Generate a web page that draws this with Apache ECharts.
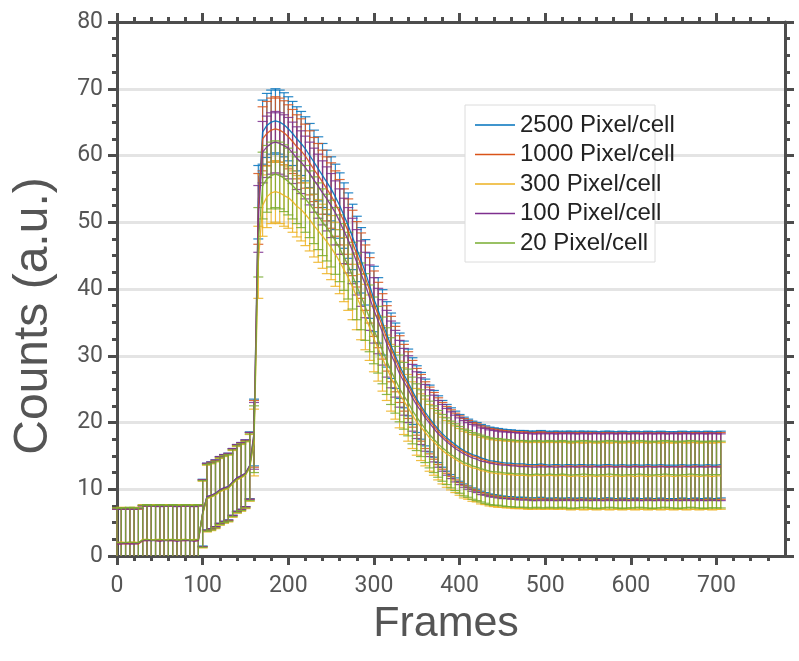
<!DOCTYPE html>
<html>
<head>
<meta charset="utf-8">
<script src="https://cdn.jsdelivr.net/npm/echarts@6/dist/echarts.min.js"></script>
<style>
  html, body { margin: 0; padding: 0; background: #fff; }
  #chart { width: 799px; height: 661px; }
</style>
</head>
<body>
<div id="chart"></div>
<script>
// frame index of every error-bar point
const frames = [
  0, 5, 10, 15, 20, 25, 30, 35, 40, 45, 50, 55, 60, 65, 70, 75, 80, 85, 90, 95,
  100, 105, 110, 115, 120, 125, 130, 135, 140, 145, 150, 155, 160, 165, 170, 175, 180, 185, 190, 195,
  200, 205, 210, 215, 220, 225, 230, 235, 240, 245, 250, 255, 260, 265, 270, 275, 280, 285, 290, 295,
  300, 305, 310, 315, 320, 325, 330, 335, 340, 345, 350, 355, 360, 365, 370, 375, 380, 385, 390, 395,
  400, 405, 410, 415, 420, 425, 430, 435, 440, 445, 450, 455, 460, 465, 470, 475, 480, 485, 490, 495,
  500, 505, 510, 515, 520, 525, 530, 535, 540, 545, 550, 555, 560, 565, 570, 575, 580, 585, 590, 595,
  600, 605, 610, 615, 620, 625, 630, 635, 640, 645, 650, 655, 660, 665, 670, 675, 680, 685, 690, 695,
  700, 705
]

const mean2500 = [
  1.9, 2.0, 1.9, 2.0, 1.9, 2.0, 2.4, 2.4, 2.3, 2.4, 2.4, 2.3, 2.4, 2.4, 2.3, 2.4, 2.4, 2.3, 2.4, 2.4,
  6.5, 8.9, 9.1, 9.4, 9.9, 10.2, 10.4, 11.1, 11.7, 12.0, 12.4, 13.6, 18.5, 53.0, 63.5, 64.5, 65.0, 65.2, 65.0, 64.6,
  64.0, 63.3, 62.5, 61.8, 61.0, 60.0, 59.0, 58.0, 57.0, 56.0, 55.0, 53.8, 52.5, 51.0, 49.5, 47.8, 46.0, 44.3, 42.5, 40.5,
  38.5, 36.8, 35.0, 33.2, 31.5, 30.0, 28.5, 27.2, 26.0, 24.7, 23.5, 22.5, 21.5, 20.6, 19.8, 19.0, 18.3, 17.7, 17.2, 16.7,
  16.2, 15.8, 15.5, 15.2, 15.0, 14.7, 14.5, 14.3, 14.2, 14.1, 14.0, 13.9, 13.9, 13.8, 13.8, 13.8, 13.7, 13.7, 13.7, 13.8,
  13.7, 13.6, 13.7, 13.7, 13.6, 13.7, 13.7, 13.6, 13.7, 13.7, 13.6, 13.7, 13.6, 13.6, 13.7, 13.7, 13.6, 13.6, 13.7, 13.6,
  13.6, 13.7, 13.6, 13.6, 13.7, 13.6, 13.6, 13.7, 13.6, 13.6, 13.6, 13.6, 13.7, 13.6, 13.6, 13.7, 13.6, 13.6, 13.7, 13.6,
  13.6, 13.7
]
const err2500 = [
  5.2, 5.2, 5.2, 5.2, 5.2, 5.2, 5.2, 5.2, 5.2, 5.2, 5.2, 5.2, 5.2, 5.2, 5.2, 5.2, 5.2, 5.2, 5.2, 5.2,
  5.0, 5.0, 5.0, 5.0, 5.0, 5.0, 5.0, 5.0, 5.0, 5.0, 5.0, 5.0, 5.0, 5.5, 4.8, 4.8, 4.8, 4.8, 4.8, 4.8,
  4.8, 4.8, 4.8, 4.8, 4.8, 4.8, 4.8, 4.8, 4.8, 4.8, 4.8, 4.9, 4.9, 4.9, 4.9, 4.9, 4.9, 4.9, 4.9, 4.9,
  4.9, 4.9, 4.9, 4.9, 4.9, 4.9, 4.9, 5.0, 5.0, 5.0, 5.0, 5.0, 5.0, 5.0, 5.0, 5.0, 5.0, 5.0, 5.0, 5.0,
  5.0, 5.0, 5.0, 5.0, 5.0, 5.0, 5.0, 5.0, 5.0, 5.0, 5.0, 5.0, 5.0, 5.0, 5.0, 5.0, 5.0, 5.0, 5.0, 5.0,
  5.0, 5.0, 5.0, 5.0, 5.0, 5.0, 5.0, 5.0, 5.0, 5.0, 5.0, 5.0, 5.0, 5.0, 5.0, 5.0, 5.0, 5.0, 5.0, 5.0,
  5.0, 5.0, 5.0, 5.0, 5.0, 5.0, 5.0, 5.0, 5.0, 5.0, 5.0, 5.0, 5.0, 5.0, 5.0, 5.0, 5.0, 5.0, 5.0, 5.0,
  5.0, 5.0
]

const mean1000 = [
  1.8, 1.9, 1.8, 1.9, 1.9, 1.8, 2.3, 2.3, 2.4, 2.3, 2.3, 2.4, 2.3, 2.3, 2.4, 2.3, 2.3, 2.4, 2.3, 2.3,
  6.4, 8.8, 9.0, 9.3, 9.8, 10.1, 10.3, 11.0, 11.6, 11.9, 12.3, 13.5, 18.3, 52.0, 62.5, 63.3, 63.8, 64.0, 63.8, 63.4,
  62.8, 62.1, 61.3, 60.7, 59.9, 58.9, 57.9, 57.0, 56.0, 55.0, 54.0, 52.8, 51.5, 50.1, 48.6, 46.9, 45.2, 43.5, 41.7, 39.8,
  37.8, 36.1, 34.4, 32.6, 31.0, 29.5, 28.0, 26.7, 25.6, 24.3, 23.1, 22.2, 21.1, 20.3, 19.5, 18.7, 18.0, 17.4, 16.9, 16.4,
  16.0, 15.6, 15.3, 15.0, 14.8, 14.5, 14.3, 14.1, 14.0, 13.9, 13.8, 13.7, 13.7, 13.6, 13.6, 13.6, 13.5, 13.5, 13.5, 13.6,
  13.5, 13.4, 13.5, 13.5, 13.4, 13.5, 13.5, 13.4, 13.5, 13.5, 13.4, 13.5, 13.4, 13.4, 13.5, 13.5, 13.4, 13.4, 13.5, 13.4,
  13.4, 13.5, 13.4, 13.4, 13.5, 13.4, 13.4, 13.5, 13.4, 13.4, 13.4, 13.4, 13.5, 13.4, 13.4, 13.5, 13.4, 13.4, 13.5, 13.4,
  13.4, 13.5
]
const err1000 = [
  5.2, 5.2, 5.2, 5.2, 5.2, 5.2, 5.2, 5.2, 5.2, 5.2, 5.2, 5.2, 5.2, 5.2, 5.2, 5.2, 5.2, 5.2, 5.2, 5.2,
  5.0, 5.0, 5.0, 5.0, 5.0, 5.0, 5.0, 5.0, 5.0, 5.0, 5.0, 5.0, 5.0, 5.3, 4.8, 4.8, 4.8, 4.8, 4.8, 4.8,
  4.8, 4.8, 4.8, 4.8, 4.8, 4.8, 4.8, 4.8, 4.8, 4.8, 4.9, 4.9, 4.9, 4.9, 4.9, 4.9, 4.9, 4.9, 4.9, 4.9,
  4.9, 4.9, 4.9, 4.9, 4.9, 4.9, 5.0, 5.0, 5.0, 5.0, 5.0, 5.0, 5.0, 5.0, 5.0, 5.0, 5.0, 5.0, 5.0, 5.0,
  5.0, 5.0, 5.0, 5.0, 5.0, 5.0, 5.0, 5.0, 5.0, 5.0, 5.0, 5.0, 5.0, 5.0, 5.0, 5.0, 5.0, 5.0, 5.0, 5.0,
  5.0, 5.0, 5.0, 5.0, 5.0, 5.0, 5.0, 5.0, 5.0, 5.0, 5.0, 5.0, 5.0, 5.0, 5.0, 5.0, 5.0, 5.0, 5.0, 5.0,
  5.0, 5.0, 5.0, 5.0, 5.0, 5.0, 5.0, 5.0, 5.0, 5.0, 5.0, 5.0, 5.0, 5.0, 5.0, 5.0, 5.0, 5.0, 5.0, 5.0,
  5.0, 5.0
]

const mean300 = [
  2.0, 2.1, 2.0, 2.0, 2.1, 2.0, 2.5, 2.5, 2.4, 2.5, 2.5, 2.4, 2.5, 2.5, 2.4, 2.5, 2.5, 2.4, 2.5, 2.5,
  6.2, 8.6, 8.8, 9.1, 9.6, 9.9, 10.1, 10.8, 11.4, 11.7, 12.1, 13.2, 17.0, 44.0, 52.5, 53.8, 54.4, 54.6, 54.4, 54.0,
  53.7, 53.1, 52.4, 51.9, 51.2, 50.4, 49.5, 48.7, 47.9, 47.1, 46.2, 45.2, 44.1, 42.9, 41.7, 40.3, 38.8, 37.3, 35.8, 34.2,
  32.5, 31.1, 29.6, 28.2, 26.7, 25.5, 24.2, 23.2, 22.2, 21.1, 20.1, 19.3, 18.5, 17.7, 17.1, 16.4, 15.8, 15.3, 14.9, 14.5,
  14.1, 13.7, 13.5, 13.2, 13.1, 12.8, 12.7, 12.5, 12.4, 12.3, 12.3, 12.2, 12.2, 12.1, 12.1, 12.1, 12.0, 12.0, 12.1, 12.0,
  12.0, 12.1, 12.0, 12.0, 12.1, 12.0, 11.9, 12.0, 12.0, 11.9, 12.0, 12.0, 11.9, 12.0, 12.0, 11.9, 12.0, 12.0, 11.9, 12.0,
  12.0, 11.9, 12.0, 12.0, 11.9, 12.0, 12.0, 11.9, 12.0, 12.0, 11.9, 12.0, 12.0, 11.9, 12.0, 12.0, 11.9, 12.0, 12.0, 11.9,
  12.0, 12.0
]
const err300 = [
  5.2, 5.2, 5.2, 5.2, 5.2, 5.2, 5.2, 5.2, 5.2, 5.2, 5.2, 5.2, 5.2, 5.2, 5.2, 5.2, 5.2, 5.2, 5.2, 5.2,
  5.0, 5.0, 5.0, 5.0, 5.0, 5.0, 5.0, 5.0, 5.0, 5.0, 5.0, 5.0, 5.0, 5.4, 4.6, 4.6, 4.6, 4.6, 4.6, 4.6,
  4.6, 4.6, 4.6, 4.7, 4.7, 4.7, 4.7, 4.7, 4.8, 4.8, 4.8, 4.8, 4.8, 4.8, 4.9, 4.9, 4.9, 4.9, 4.9, 4.9,
  4.9, 4.9, 4.9, 4.9, 5.0, 5.0, 5.0, 5.0, 5.0, 5.0, 5.0, 5.0, 5.0, 5.0, 5.0, 5.0, 5.0, 5.0, 5.0, 5.0,
  5.0, 5.0, 5.0, 5.0, 5.0, 5.0, 5.0, 5.0, 5.0, 5.0, 5.0, 5.0, 5.0, 5.0, 5.0, 5.0, 5.0, 5.0, 5.0, 5.0,
  5.0, 5.0, 5.0, 5.0, 5.0, 5.0, 5.0, 5.0, 5.0, 5.0, 5.0, 5.0, 5.0, 5.0, 5.0, 5.0, 5.0, 5.0, 5.0, 5.0,
  5.0, 5.0, 5.0, 5.0, 5.0, 5.0, 5.0, 5.0, 5.0, 5.0, 5.0, 5.0, 5.0, 5.0, 5.0, 5.0, 5.0, 5.0, 5.0, 5.0,
  5.0, 5.0
]

const mean100 = [
  1.8, 1.8, 1.9, 1.8, 1.8, 1.9, 2.3, 2.3, 2.3, 2.3, 2.2, 2.3, 2.3, 2.3, 2.2, 2.3, 2.3, 2.3, 2.2, 2.3,
  6.4, 8.9, 9.1, 9.4, 9.9, 10.2, 10.4, 11.1, 11.7, 12.0, 12.4, 13.5, 18.0, 50.5, 60.5, 61.3, 61.8, 62.0, 61.8, 61.5,
  61.1, 60.4, 59.6, 59.0, 58.2, 57.3, 56.3, 55.4, 54.4, 53.5, 52.5, 51.4, 50.1, 48.7, 47.3, 45.7, 44.0, 42.3, 40.6, 38.7,
  36.8, 35.2, 33.5, 31.8, 30.2, 28.8, 27.3, 26.1, 25.0, 23.7, 22.6, 21.7, 20.7, 19.9, 19.1, 18.3, 17.7, 17.1, 16.6, 16.1,
  15.7, 15.3, 15.0, 14.7, 14.5, 14.2, 14.1, 13.9, 13.8, 13.7, 13.6, 13.6, 13.5, 13.5, 13.4, 13.4, 13.4, 13.3, 13.3, 13.4,
  13.3, 13.4, 13.3, 13.3, 13.4, 13.3, 13.4, 13.3, 13.3, 13.4, 13.3, 13.3, 13.4, 13.3, 13.3, 13.4, 13.3, 13.3, 13.4, 13.3,
  13.3, 13.4, 13.3, 13.3, 13.4, 13.3, 13.3, 13.4, 13.3, 13.3, 13.4, 13.3, 13.3, 13.4, 13.3, 13.3, 13.4, 13.3, 13.3, 13.4,
  13.3, 13.3
]
const err100 = [
  5.2, 5.2, 5.2, 5.2, 5.2, 5.2, 5.2, 5.2, 5.2, 5.2, 5.2, 5.2, 5.2, 5.2, 5.2, 5.2, 5.2, 5.2, 5.2, 5.2,
  5.0, 5.0, 5.0, 5.0, 5.0, 5.0, 5.0, 5.0, 5.0, 5.0, 5.0, 5.0, 5.0, 5.0, 4.6, 4.6, 4.6, 4.6, 4.6, 4.6,
  4.6, 4.6, 4.7, 4.7, 4.7, 4.7, 4.8, 4.8, 4.8, 4.8, 4.8, 4.8, 4.9, 4.9, 4.9, 4.9, 4.9, 4.9, 4.9, 4.9,
  4.9, 4.9, 4.9, 5.0, 5.0, 5.0, 5.0, 5.0, 5.0, 5.0, 5.0, 5.0, 5.0, 5.0, 5.0, 5.0, 5.0, 5.0, 5.0, 5.0,
  5.0, 5.0, 5.0, 5.0, 5.0, 5.0, 5.0, 5.0, 5.0, 5.0, 5.0, 5.0, 5.0, 5.0, 5.0, 5.0, 5.0, 5.0, 5.0, 5.0,
  5.0, 5.0, 5.0, 5.0, 5.0, 5.0, 5.0, 5.0, 5.0, 5.0, 5.0, 5.0, 5.0, 5.0, 5.0, 5.0, 5.0, 5.0, 5.0, 5.0,
  5.0, 5.0, 5.0, 5.0, 5.0, 5.0, 5.0, 5.0, 5.0, 5.0, 5.0, 5.0, 5.0, 5.0, 5.0, 5.0, 5.0, 5.0, 5.0, 5.0,
  5.0, 5.0
]

const mean20 = [
  2.0, 2.0, 2.0, 2.1, 2.0, 2.0, 2.4, 2.5, 2.4, 2.4, 2.5, 2.4, 2.4, 2.5, 2.4, 2.4, 2.5, 2.4, 2.4, 2.5,
  6.3, 8.7, 8.9, 9.2, 9.7, 10.0, 10.2, 10.9, 11.5, 11.8, 12.2, 13.3, 17.5, 47.0, 55.5, 56.5, 57.0, 57.2, 57.0, 56.6,
  56.1, 55.5, 54.8, 54.2, 53.5, 52.7, 51.8, 50.9, 50.0, 49.2, 48.3, 47.2, 46.1, 44.8, 43.5, 42.0, 40.4, 38.9, 37.3, 35.6,
  33.8, 32.4, 30.8, 29.2, 27.7, 26.4, 25.1, 24.0, 23.0, 21.8, 20.8, 19.9, 19.0, 18.2, 17.5, 16.8, 16.2, 15.7, 15.2, 14.8,
  14.4, 14.0, 13.8, 13.5, 13.3, 13.1, 12.9, 12.7, 12.6, 12.6, 12.5, 12.4, 12.4, 12.3, 12.3, 12.3, 12.2, 12.2, 12.3, 12.2,
  12.2, 12.3, 12.2, 12.2, 12.3, 12.2, 12.1, 12.2, 12.2, 12.3, 12.2, 12.2, 12.1, 12.2, 12.2, 12.3, 12.2, 12.2, 12.1, 12.2,
  12.2, 12.2, 12.3, 12.2, 12.2, 12.1, 12.2, 12.2, 12.3, 12.2, 12.2, 12.1, 12.2, 12.2, 12.3, 12.2, 12.2, 12.1, 12.2, 12.2,
  12.2, 12.2
]
const err20 = [
  5.2, 5.2, 5.2, 5.2, 5.2, 5.2, 5.2, 5.2, 5.2, 5.2, 5.2, 5.2, 5.2, 5.2, 5.2, 5.2, 5.2, 5.2, 5.2, 5.2,
  5.0, 5.0, 5.0, 5.0, 5.0, 5.0, 5.0, 5.0, 5.0, 5.0, 5.0, 5.0, 5.0, 5.2, 5.0, 5.0, 5.0, 5.0, 5.0, 5.0,
  5.0, 5.0, 5.0, 5.0, 5.0, 5.0, 5.0, 5.0, 5.0, 5.0, 5.0, 5.0, 5.0, 5.0, 5.0, 5.0, 5.0, 5.0, 5.0, 5.0,
  5.0, 5.0, 5.0, 5.0, 5.0, 5.0, 5.0, 5.0, 5.0, 5.0, 5.0, 5.0, 5.0, 5.0, 5.0, 5.0, 5.0, 5.0, 5.0, 5.0,
  5.0, 5.0, 5.0, 5.0, 5.0, 5.0, 5.0, 5.0, 5.0, 5.0, 5.0, 5.0, 5.0, 5.0, 5.0, 5.0, 5.0, 5.0, 5.0, 5.0,
  5.0, 5.0, 5.0, 5.0, 5.0, 5.0, 5.0, 5.0, 5.0, 5.0, 5.0, 5.0, 5.0, 5.0, 5.0, 5.0, 5.0, 5.0, 5.0, 5.0,
  5.0, 5.0, 5.0, 5.0, 5.0, 5.0, 5.0, 5.0, 5.0, 5.0, 5.0, 5.0, 5.0, 5.0, 5.0, 5.0, 5.0, 5.0, 5.0, 5.0,
  5.0, 5.0
]

const seriesNames = ['2500 Pixel/cell', '1000 Pixel/cell', '300 Pixel/cell', '100 Pixel/cell', '20 Pixel/cell']
const seriesMeans = [mean2500, mean1000, mean300, mean100, mean20]
const seriesErrs = [err2500, err1000, err300, err100, err20]
const seriesColors = ['#0072BD', '#D95319', '#EDB120', '#7E2F8E', '#77AC30']

const xMajorTicks = [0, 100, 200, 300, 400, 500, 600, 700]
const axisColor = '#4d4d4d'
const textColor = '#555555'
const tickFont = 'Roboto, "Liberation Sans", sans-serif'
const titleFont = '"Liberation Sans", Arial, sans-serif'

// error bar: vertical stem + caps, clipped at y = 0 like the original
function errorBar(color) {
  return function (params, api) {
    const x = api.value(0)
    const m = api.value(1)
    const e = api.value(2)
    const hi = api.coord([x, m + e])
    const lo = api.coord([x, Math.max(m - e, 0)])
    const w = 5
    const style = { stroke: color, lineWidth: 1.2, opacity: 0.85 }
    const kids = [
      { type: 'line', shape: { x1: hi[0], y1: hi[1], x2: lo[0], y2: lo[1] }, style },
      { type: 'line', shape: { x1: hi[0] - w, y1: hi[1], x2: hi[0] + w, y2: hi[1] }, style },
    ]
    if (m - e >= 0) {
      kids.push({ type: 'line', shape: { x1: lo[0] - w, y1: lo[1], x2: lo[0] + w, y2: lo[1] }, style })
    }
    return { type: 'group', children: kids }
  }
}

const series = []
seriesNames.forEach((name, k) => {
  const m = seriesMeans[k]
  const e = seriesErrs[k]
  series.push({
    name: name + ' err', type: 'custom',
    renderItem: errorBar(seriesColors[k]),
    data: frames.map((f, i) => [f, m[i], e[i]]),
    encode: { x: 0, y: 1 },
    silent: true,
  })
  series.push({
    name, type: 'line',
    data: frames.map((f, i) => [f, m[i]]),
    symbol: 'none',
    lineStyle: { color: seriesColors[k], width: 1.3, opacity: 0.9 },
    itemStyle: { color: seriesColors[k] },
  })
})

function xAxisDef(pos, withLabel) {
  return {
    type: 'value', position: pos, min: 0, max: 780, interval: 100,
    name: withLabel ? 'Frames' : '', nameLocation: 'middle', nameGap: 47,
    nameTextStyle: { fontFamily: titleFont, fontSize: 43, color: textColor, padding: [0, 10, 0, 0] },
    axisLine: { show: true, onZero: false, lineStyle: { color: axisColor, width: 3 } },
    axisTick: { show: true, length: 9, customValues: xMajorTicks, lineStyle: { color: axisColor, width: 3 } },
    minorTick: { show: true, splitNumber: 5, length: 5, lineStyle: { color: axisColor, width: 3 } },
    axisLabel: { show: withLabel, customValues: xMajorTicks, margin: 19, fontFamily: tickFont, fontSize: 23, color: textColor },
    splitLine: { show: false },
  }
}

function yAxisDef(pos, withLabel) {
  return {
    type: 'value', position: pos, min: 0, max: 80, interval: 10,
    axisLine: { show: true, onZero: false, lineStyle: { color: axisColor, width: 3 } },
    axisTick: { show: true, length: 9, lineStyle: { color: axisColor, width: 3 } },
    minorTick: { show: true, splitNumber: 4, length: 5, lineStyle: { color: axisColor, width: 3 } },
    axisLabel: { show: withLabel, margin: 14, fontFamily: tickFont, fontSize: 23, color: textColor },
    splitLine: { show: withLabel, lineStyle: { color: '#e4e4e4', width: 3 } },
  }
}

const chart = echarts.init(document.getElementById('chart'), null, { renderer: 'canvas' })
chart.setOption({
  animation: false,
  backgroundColor: '#fff',
  grid: { left: 117, right: 14, top: 22, bottom: 105, containLabel: false },
  xAxis: [xAxisDef('bottom', true), xAxisDef('top', false)],
  yAxis: [yAxisDef('left', true), yAxisDef('right', false)],
  graphic: [
    {
      type: 'rect', z: 3,
      shape: { x: 465, y: 105, width: 190, height: 157 },
      style: { fill: '#fff', stroke: '#dcdcdc', lineWidth: 1 },
    },
    {
      // y axis title, placed like the original (slightly below the axis middle)
      type: 'text', z: 3, x: 34, y: 316, rotation: Math.PI / 2,
      style: {
        text: 'Counts (a.u.)', fill: textColor,
        font: '48px ' + titleFont, textAlign: 'center', textVerticalAlign: 'middle',
      },
    },
  ],
  legend: {
    data: seriesNames,
    orient: 'vertical', left: 465, top: 105, padding: [8, 6, 8, 10],
    icon: 'rect', itemWidth: 40, itemHeight: 1.5, itemGap: 5.5, itemTextGap: 6,
    textStyle: { fontFamily: titleFont, fontSize: 24, color: '#222', lineHeight: 24 },
    z: 5,
  },
  series,
})
</script>
</body>
</html>
